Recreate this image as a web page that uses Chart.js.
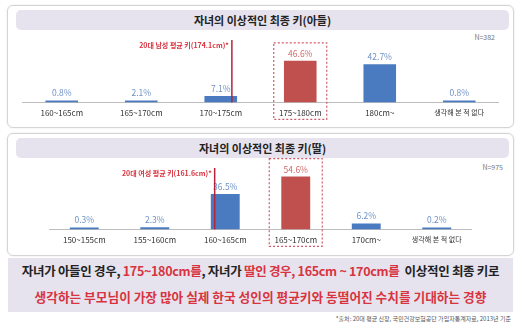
<!DOCTYPE html>
<html>
<head>
<meta charset="utf-8">
<script src="https://cdn.jsdelivr.net/npm/chart.js@4"></script>
<style>
  body { margin:0; width:520px; height:327px; background:#fff; position:relative; overflow:hidden;
         font-family:"Noto Sans CJK KR","Noto Sans",sans-serif; }
  .panel { position:absolute; left:7px; width:505px; border:1px solid #d4d4d4; border-radius:6px;
           box-shadow:0 0 2px rgba(0,0,0,.12); }
  .title { position:absolute; left:8px; right:4px; top:4px; height:20px; background:#e6e3ee; border-radius:5px;
           text-align:center; font-weight:bold; font-size:11px; line-height:20px; color:#222; }
  .n { position:absolute; font-size:7px; color:#777; }
  canvas { position:absolute; }
  .summary { position:absolute; left:8px; top:258px; width:505px; height:54px; background:#e6e3ee;
             text-align:center; font-weight:bold; font-size:12.5px; color:#222; }
  .summary div { height:26px; line-height:26px; }
  .l1 { letter-spacing:-0.3px; }
  .l2 { font-size:12.7px; }
  .red { color:#d8333f; }
  .note { position:absolute; right:9px; top:314px; font-size:6px; color:#555; }
</style>
</head>
<body>
<div class="panel" style="top:5px;height:121px"><div class="title">자녀의 이상적인 최종 키(아들)</div></div>
<div class="panel" style="top:133px;height:121px"><div class="title">자녀의 이상적인 최종 키(딸)</div></div>
<div class="n" style="right:25px;top:32px">N=382</div>
<div class="n" style="right:17px;top:162px">N=975</div>
<canvas id="chart-son" width="477" height="92" style="left:22px;top:32px"></canvas>
<canvas id="chart-daughter" width="423" height="95" style="left:49px;top:156px"></canvas>
<div class="summary">
  <div class="l1">자녀가 아들인 경우, <span class="red">175~180cm를</span>, 자녀가 <span class="red">딸인 경우, 165cm ~ 170cm를</span>&nbsp; 이상적인 최종 키로</div>
  <div class="red l2">생각하는 부모님이 가장 많아 실제 한국 성인의 평균키와 동떨어진 수치를 기대하는 경향</div>
</div>
<div class="note">*출처: 20대 평균 신장, 국민건강보험공단 가입자통계자료, 2013년 기준</div>
<script>
// 아들
const sonLabels = ['160~165cm', '165~170cm', '170~175cm', '175~180cm', '180cm~', '생각해 본 적 없다'];
const sonValues = [0.8, 2.1, 7.1, 46.6, 42.7, 0.8];
const sonAvgText = '20대 남성 평균 키(174.1cm)*';
const sonAvgPos = 2.14;   // 170~175 와 175~180 사이
// 딸
const daughterLabels = ['150~155cm', '155~160cm', '160~165cm', '165~170cm', '170cm~', '생각해 본 적 없다'];
const daughterValues = [0.3, 2.3, 36.5, 54.6, 6.2, 0.2];
const daughterAvgText = '20대 여성 평균 키(161.6cm)*';
const daughterAvgPos = 1.85;
const highlightIdx = 3;

const RED = '#c0504d', BLUE = '#4a7bc0', FONT = '"Noto Sans CJK KR","Noto Sans",sans-serif';

// 값 라벨, 강조 박스, 평균 키 선
const overlay = {
  id: 'overlay',
  afterDatasetsDraw(chart, args, opts) {
    const { ctx, scales: { x, y }, chartArea } = chart;
    const vals = chart.data.datasets[0].data;
    ctx.save();
    ctx.textAlign = 'center';
    ctx.textBaseline = 'bottom';
    ctx.font = '8.5px ' + FONT;
    vals.forEach((v, i) => {
      ctx.fillStyle = i === highlightIdx ? '#d06a6a' : '#6f93c6';
      ctx.fillText(v.toFixed(1) + '%', x.getPixelForValue(i), Math.min(y.getPixelForValue(v), chartArea.bottom - 2) - 3);
    });
    // 강조 박스
    const cx = x.getPixelForValue(highlightIdx);
    const top = y.getPixelForValue(vals[highlightIdx]) - 18;
    ctx.strokeStyle = '#cf5a6a';
    ctx.lineWidth = 1.2;
    ctx.setLineDash([2, 2]);
    ctx.strokeRect(cx - 26.5, top, 53, chartArea.bottom + 17 - top);
    ctx.setLineDash([]);
    // 평균 키 선
    const i0 = Math.floor(opts.pos);
    const step = x.getPixelForValue(i0 + 1) - x.getPixelForValue(i0);
    const lx = x.getPixelForValue(i0) + (opts.pos - i0) * step;
    ctx.strokeStyle = '#b5243a';
    ctx.lineWidth = 1.5;
    ctx.beginPath();
    ctx.moveTo(lx, chartArea.top);
    ctx.lineTo(lx, chartArea.bottom);
    ctx.stroke();
    ctx.fillStyle = '#d8333f';
    ctx.font = 'bold 7px ' + FONT;
    ctx.textAlign = 'right';
    ctx.textBaseline = 'middle';
    ctx.fillText(opts.text, lx - 3, chartArea.top + 5);
    ctx.restore();
  }
};

function makeChart(id, labels, values, yMax, padTop, avgPos, avgText) {
  return new Chart(document.getElementById(id), {
    type: 'bar',
    data: {
      labels: labels,
      datasets: [{
        data: values,
        backgroundColor: values.map((v, i) => i === highlightIdx ? RED : BLUE),
        barPercentage: 0.41,
        categoryPercentage: 1,
        minBarLength: 2
      }]
    },
    options: {
      responsive: false,
      animation: false,
      layout: { padding: { top: padTop, left: 0, right: 0, bottom: 0 } },
      plugins: {
        legend: { display: false },
        tooltip: { enabled: false },
        overlay: { pos: avgPos, text: avgText }
      },
      scales: {
        x: {
          grid: { display: false, drawTicks: false },
          border: { color: '#bdbdbd', width: 1 },
          ticks: {
            color: '#333', padding: 6, autoSkip: false, maxRotation: 0,
            font: ctx => ({ size: ctx.index === 5 ? 7 : 8, family: FONT })
          }
        },
        y: { display: false, min: 0, max: yMax }
      }
    },
    plugins: [overlay]
  });
}

makeChart('chart-son', sonLabels, sonValues, 70, 8, sonAvgPos, sonAvgText);
makeChart('chart-daughter', daughterLabels, daughterValues, 63.5, 12, daughterAvgPos, daughterAvgText);
</script>
</body>
</html>
